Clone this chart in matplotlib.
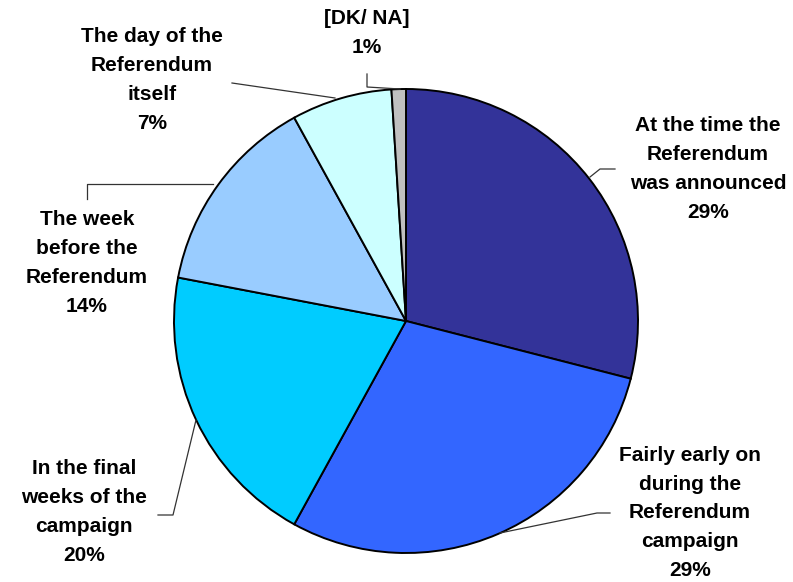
import matplotlib
matplotlib.use('Agg')
import matplotlib.pyplot as plt

# data
labels = ['At the time the\nReferendum\nwas announced',
          'Fairly early on\nduring the\nReferendum\ncampaign',
          'In the final\nweeks of the\ncampaign',
          'The week\nbefore the\nReferendum',
          'The day of the\nReferendum\nitself',
          '[DK/ NA]']
values = [29, 29, 20, 14, 7, 1]
colors = ['#333399', '#3366FF', '#00CCFF', '#99CCFF', '#CCFFFF', '#C0C0C0']

W, H = 793, 582
fig = plt.figure(figsize=(W / 100, H / 100), dpi=100)
ax = fig.add_axes([0, 0, 1, 1])
ax.set_xlim(0, W)
ax.set_ylim(0, H)
ax.set_aspect('equal')
ax.axis('off')

cx, cy, r = 406, H - 321, 232
ax.pie(values, colors=colors, startangle=90, counterclock=False,
       center=(cx, cy), radius=r,
       wedgeprops=dict(edgecolor='black', linewidth=1.4))
ax.set_xlim(0, W)
ax.set_ylim(0, H)

# label positions (pixel coords, y down) and leader paths
text_pos = [(708, 169), (690, 513), (84, 512), (87, 263), (152, 80), (367, 33)]
leaders = [
    [(590, 177), (600, 169), (615, 169)],
    [(500, 533), (597, 513), (610, 513)],
    [(196, 420), (173, 515), (158, 515)],
    [(213, 184), (87, 184), (87, 199)],
    [(335, 98), (232, 83)],
    [(400, 89), (367, 87), (367, 74)],
]

for lab, v, (tx, ty), path in zip(labels, values, text_pos, leaders):
    ax.text(tx, H - ty, f'{lab}\n{v}%', ha='center', va='center',
            fontsize=15, fontweight='bold', family='Liberation Sans',
            linespacing=1.66, color='black')
    xs = [p[0] for p in path]
    ys = [H - p[1] for p in path]
    ax.plot(xs, ys, color='#333333', lw=0.9)

fig.savefig('out.png', dpi=100)
